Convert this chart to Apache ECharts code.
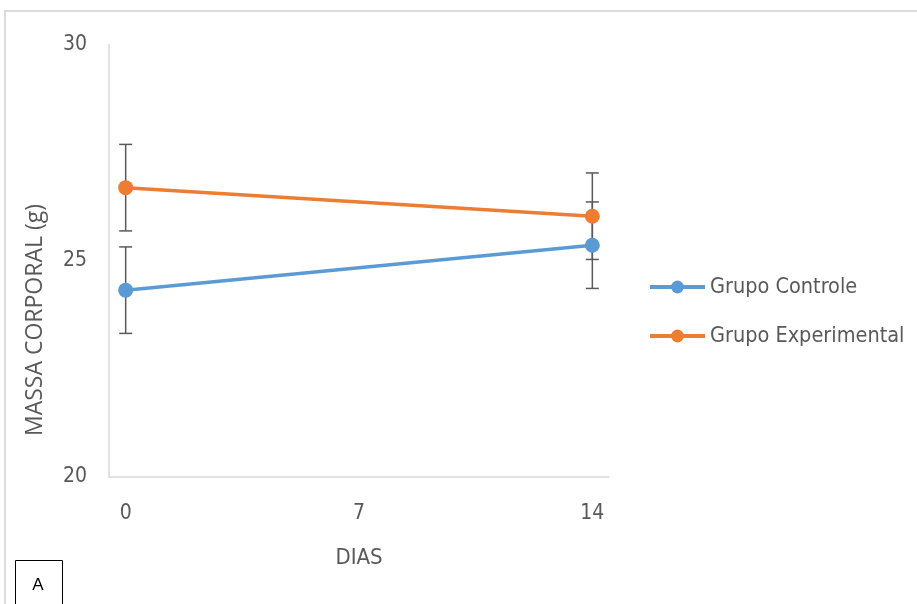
<!DOCTYPE html>
<html>
<head>
<meta charset="utf-8">
<script src="https://cdn.jsdelivr.net/npm/echarts@6/dist/echarts.min.js"></script>
<style>
  html, body { margin: 0; padding: 0; background: #fff; }
  #chart { width: 917px; height: 604px; }
</style>
</head>
<body>
<div id="chart"></div>
<script>
// Body mass (g) over the days of the protocol, mean ± error per group
const days = [0, 14];
const xTickValues = [0, 7, 14];
const yTickValues = [20, 25, 30];
const seriesNames = ['Grupo Controle', 'Grupo Experimental'];
const controle = [24.32, 25.36];
const experimental = [26.69, 26.03];
const controleErr = [1.0, 1.0];
const experimentalErr = [1.0, 1.0];

const colors = ['#5B9BD5', '#ED7D31'];
const textColor = '#595959';
const axisColor = '#d9d9d9';
const narrowFont = '"DejaVu Sans Condensed", Roboto, sans-serif';

function pairs(xs, ys) { return xs.map((x, i) => [x, ys[i]]); }
function errRows(xs, ys, es) { return xs.map((x, i) => [x, ys[i] - es[i], ys[i] + es[i]]); }

// vertical whisker with caps
function renderError(params, api) {
  const x = api.value(0);
  const lo = api.coord([x, api.value(1)]);
  const hi = api.coord([x, api.value(2)]);
  const half = 6.5;
  const style = { stroke: '#595959', lineWidth: 1.5 };
  return {
    type: 'group',
    children: [
      { type: 'line', shape: { x1: lo[0], y1: lo[1], x2: hi[0], y2: hi[1] }, style },
      { type: 'line', shape: { x1: lo[0] - half, y1: lo[1], x2: lo[0] + half, y2: lo[1] }, style },
      { type: 'line', shape: { x1: hi[0] - half, y1: hi[1], x2: hi[0] + half, y2: hi[1] }, style }
    ]
  };
}

const chart = echarts.init(document.getElementById('chart'), null, { renderer: 'canvas' });
chart.setOption({
  animation: false,
  backgroundColor: '#fff',
  color: colors,
  grid: { left: 109, right: 308, top: 44.5, bottom: 127, containLabel: false },
  graphic: [
    { type: 'rect', shape: { x: 5, y: 11, width: 1000, height: 700 },
      style: { fill: 'none', stroke: '#dcdcdc', lineWidth: 2 }, z: 0 },
    { type: 'rect', shape: { x: 15.5, y: 560.5, width: 47, height: 60 },
      style: { fill: '#fff', stroke: '#000', lineWidth: 1 }, z: 1 },
    { type: 'text', x: 38, y: 585, z: 2,
      style: { text: 'A', fill: '#000', font: '17px "Liberation Sans"', align: 'center', verticalAlign: 'middle' } },
    { type: 'text', x: 35, y: 320, rotation: Math.PI / 2, z: 2,
      style: { text: 'MASSA CORPORAL (g)', fill: textColor, font: '23px "Open Sans"', align: 'center', verticalAlign: 'middle' } }
  ],
  legend: {
    orient: 'vertical',
    left: 643,
    top: 271,
    itemWidth: 55,
    itemHeight: 16,
    itemGap: 27,
    lineStyle: { width: 4 },
    data: seriesNames,
    textStyle: { color: textColor, fontSize: 21.5, fontFamily: narrowFont }
  },
  xAxis: {
    type: 'value',
    min: -0.5,
    max: 14.5,
    name: 'DIAS',
    nameLocation: 'middle',
    nameGap: 70,
    nameTextStyle: { color: textColor, fontSize: 22, fontFamily: narrowFont },
    axisLine: { show: true, onZero: false, lineStyle: { color: axisColor, width: 1.5 } },
    axisTick: { show: false },
    splitLine: { show: false },
    axisLabel: {
      customValues: xTickValues,
      margin: 26,
      color: textColor,
      fontSize: 21,
      fontFamily: narrowFont
    }
  },
  yAxis: {
    type: 'value',
    min: 20,
    max: 30,
    interval: 5,
    axisLine: { show: true, onZero: false, lineStyle: { color: axisColor, width: 1.5 } },
    axisTick: { show: false },
    splitLine: { show: false },
    axisLabel: {
      customValues: yTickValues,
      margin: 22,
      color: textColor,
      fontSize: 21,
      fontFamily: narrowFont
    }
  },
  series: [
    { type: 'custom', name: 'err-controle', renderItem: renderError, data: errRows(days, controle, controleErr), z: 1, silent: true },
    { type: 'custom', name: 'err-experimental', renderItem: renderError, data: errRows(days, experimental, experimentalErr), z: 1, silent: true },
    { type: 'line', name: seriesNames[0], data: pairs(days, controle), symbol: 'circle', symbolSize: 15,
      lineStyle: { width: 3.5, color: colors[0] }, itemStyle: { color: colors[0] }, z: 3 },
    { type: 'line', name: seriesNames[1], data: pairs(days, experimental), symbol: 'circle', symbolSize: 15,
      lineStyle: { width: 3.5, color: colors[1] }, itemStyle: { color: colors[1] }, z: 3 }
  ]
});
</script>
</body>
</html>
